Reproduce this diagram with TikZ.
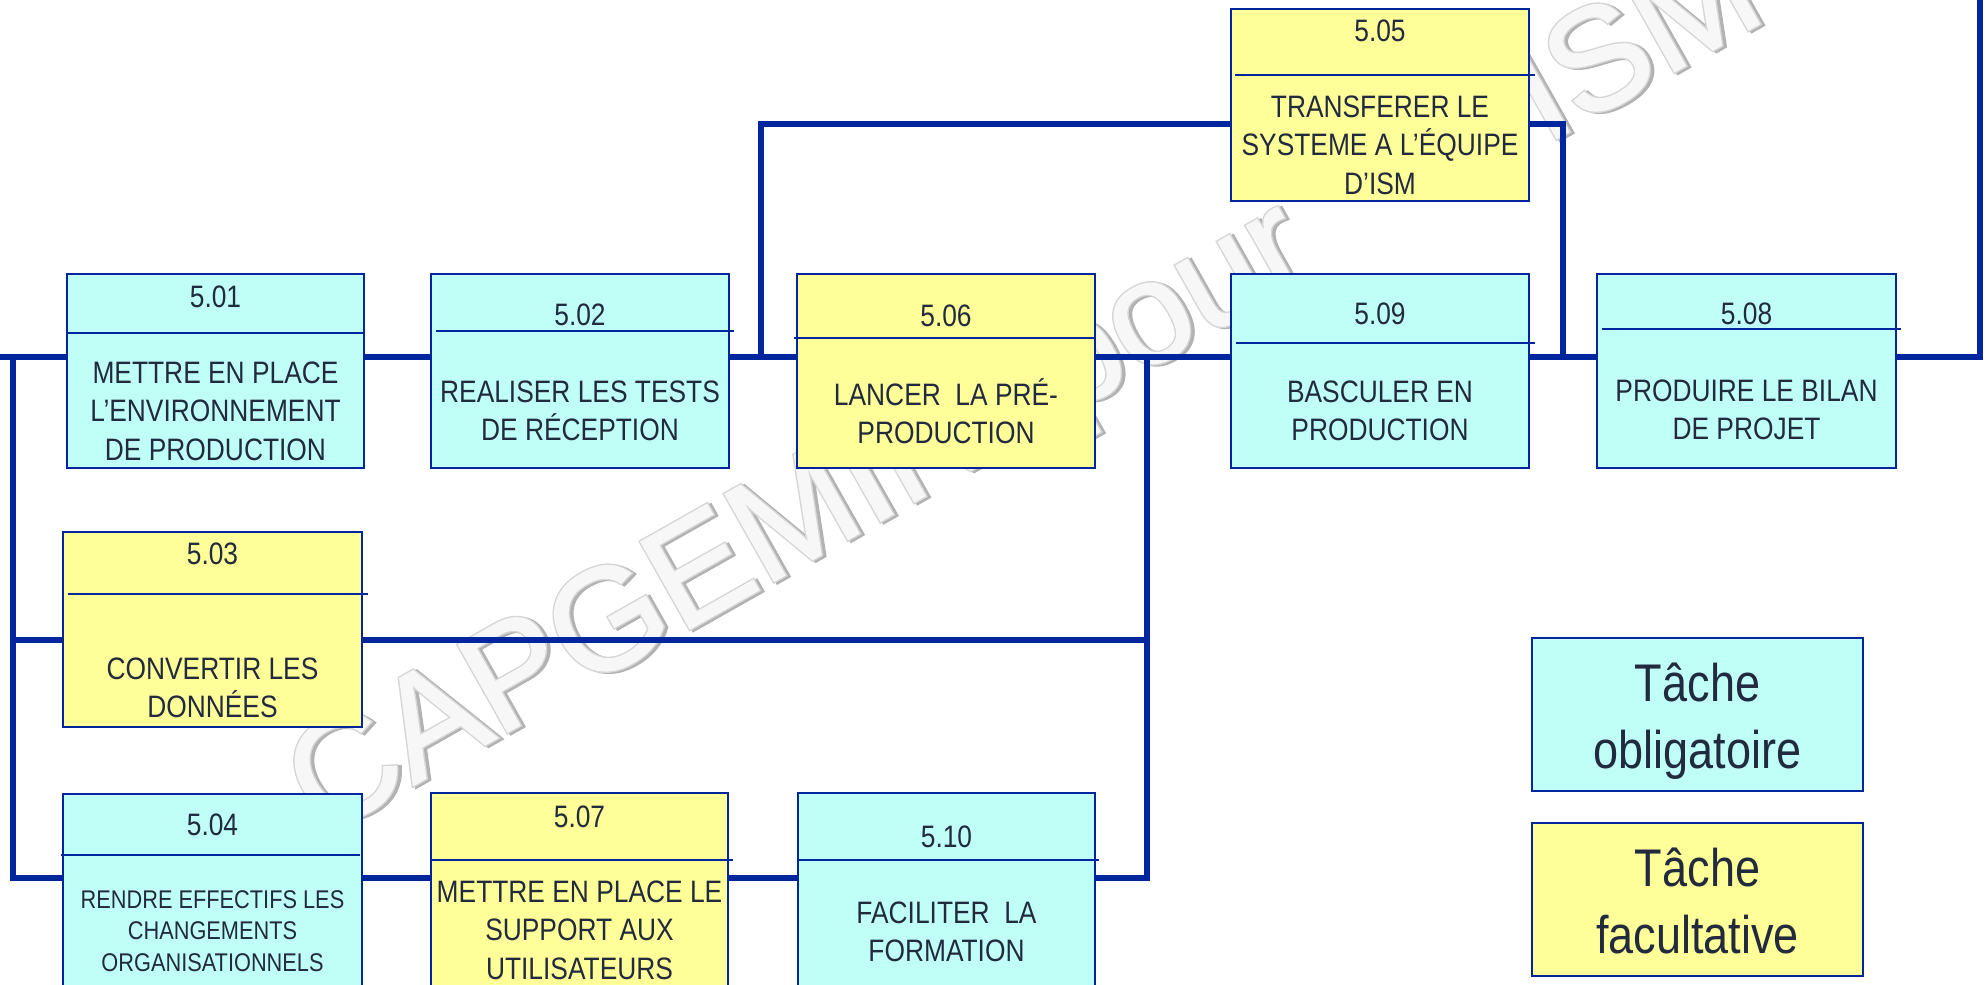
\documentclass[tikz,border=0pt]{standalone}
\usepackage{fontspec}
\setmainfont{Liberation Sans}[FakeStretch=0.85]
\newfontfamily\wmfont{Liberation Sans}[FakeBold=1]
\newfontfamily\wmline{Liberation Sans}[FakeBold=3]
\definecolor{lineblue}{RGB}{0,38,158}
\definecolor{cyanf}{RGB}{191,255,247}
\definecolor{yelf}{RGB}{255,255,153}
\definecolor{txt}{RGB}{34,42,62}
\definecolor{wmfill}{RGB}{247,247,247}
\begin{document}
\begin{tikzpicture}[x=1pt,y=-1pt,line join=miter,
  lnk/.style={draw=lineblue,line width=5.2pt},
  taskbox/.style={draw=lineblue,line width=2.8pt,anchor=north west,inner sep=0pt,outer sep=0pt},
  divline/.style={draw=lineblue,line width=2.5pt},
  tnum/.style={text=txt,inner sep=0pt,font=\fontsize{31}{38.5}\selectfont},
  tbody/.style={text=txt,inner sep=0pt,align=center,font=\fontsize{31}{38.5}\selectfont},
  tsmall/.style={text=txt,inner sep=0pt,align=center,font=\fontsize{25.6}{31.7}\selectfont},
  tlegend/.style={text=txt,inner sep=0pt,align=center,font=\fontsize{53}{67}\selectfont},
  wm/.style={inner sep=0pt,anchor=base west,rotate=29.5,font=\wmfont\fontsize{145}{145}\selectfont},
  wmo/.style={inner sep=0pt,anchor=base west,rotate=29.5,font=\wmline\fontsize{145}{145}\selectfont}]
\useasboundingbox (0,0) rectangle (1987,985);
\clip (0,0) rectangle (1987,985);
\fill[white] (0,0) rectangle (1987,985);
% watermark
\coordinate (wmA) at (322,837);
\coordinate (wmB) at (1545,145);
\node[wmo,text=gray!60,xshift=2.5pt,yshift=-2.5pt] (wma1) at (wmA) {CAPGEMINI pour};
\node[wmo,text=gray!60,xshift=2.5pt,yshift=-2.5pt] (wmb1) at (wmB) {ISM};
\node[wmo,text=gray!32] (wma2) at (wmA) {CAPGEMINI pour};
\node[wmo,text=gray!32] (wmb2) at (wmB) {ISM};
\node[wm,text=wmfill] (wma3) at (wmA) {CAPGEMINI pour};
\node[wm,text=wmfill] (wmb3) at (wmB) {ISM};
% boxes
\node[taskbox,fill=cyanf,minimum width=297pt,minimum height=194pt] (b501) at (67,274) {};
\node[taskbox,fill=cyanf,minimum width=298pt,minimum height=194pt] (b502) at (431,274) {};
\node[taskbox,fill=yelf,minimum width=298pt,minimum height=194pt] (b506) at (797,274) {};
\node[taskbox,fill=yelf,minimum width=298pt,minimum height=192pt] (b505) at (1231,9) {};
\node[taskbox,fill=cyanf,minimum width=298pt,minimum height=194pt] (b509) at (1231,274) {};
\node[taskbox,fill=cyanf,minimum width=299pt,minimum height=194pt] (b508) at (1597,274) {};
\node[taskbox,fill=yelf,minimum width=299pt,minimum height=195pt] (b503) at (63,532) {};
\node[taskbox,fill=cyanf,minimum width=299pt,minimum height=220pt] (b504) at (63,794) {};
\node[taskbox,fill=yelf,minimum width=297pt,minimum height=220pt] (b507) at (431,793) {};
\node[taskbox,fill=cyanf,minimum width=297pt,minimum height=220pt] (b510) at (798,793) {};
\node[taskbox,fill=cyanf,minimum width=331pt,minimum height=153pt] (leg1) at (1532,638) {};
\node[taskbox,fill=yelf,minimum width=331pt,minimum height=153pt] (leg2) at (1532,823) {};
% connectors
\coordinate (J0) at (0,357);
\coordinate (JR) at (1980,357);
\coordinate (JRt) at (1980,-10);
\coordinate (JL) at (13,357);
\coordinate (JL3) at (13,640);
\coordinate (JL4) at (13,878);
\coordinate (JM) at (1147,357);
\coordinate (JM3) at (1147,640);
\coordinate (JM4) at (1147,878);
\coordinate (JT) at (761,357);
\coordinate (JT2) at (761,124);
\coordinate (JU) at (1563,124);
\coordinate (JU2) at (1563,357);
\draw[lnk] (J0) -- (b501.west |- J0);
\draw[lnk] (b501.east |- J0) -- (b502.west |- J0);
\draw[lnk] (b502.east |- J0) -- (b506.west |- J0);
\draw[lnk] (b506.east |- J0) -- (b509.west |- J0);
\draw[lnk] (b509.east |- J0) -- (b508.west |- J0);
\draw[lnk] (b508.east |- J0) -- (JR) -- (JRt);
\draw[lnk] (JL) -- (JL4) -- (b504.west |- JL4);
\draw[lnk] (JL3) -- (b503.west |- JL3);
\draw[lnk] (b503.east |- JM3) -- (JM3);
\draw[lnk] (JM) -- (JM4) -- (b510.east |- JM4);
\draw[lnk] (b504.east |- JM4) -- (b507.west |- JM4);
\draw[lnk] (b507.east |- JM4) -- (b510.west |- JM4);
\draw[lnk] (JT) -- (JT2) -- (b505.west |- JT2);
\draw[lnk] (b505.east |- JU) -- (JU) -- (JU2);
% dividers
\draw[divline] (67,333) -- (364,333);
\draw[divline] (436,331) -- (734,331);
\draw[divline] (794,338) -- (1095,338);
\draw[divline] (1235,75) -- (1535,75);
\draw[divline] (1236,343) -- (1535,343);
\draw[divline] (1602,329) -- (1901,329);
\draw[divline] (68,594) -- (368,594);
\draw[divline] (61,855) -- (360,855);
\draw[divline] (431,860) -- (733,860);
\draw[divline] (798,860) -- (1099,860);
% texts
\node[tnum] (n501) at (215.5,297) {5.01};
\node[tbody] (t501) at (215.5,411) {METTRE EN PLACE\\L’ENVIRONNEMENT\\DE PRODUCTION};
\node[tnum] (n502) at (580,315) {5.02};
\node[tbody] (t502) at (580,411) {REALISER LES TESTS\\DE RÉCEPTION};
\node[tnum] (n506) at (946,316) {5.06};
\node[tbody] (t506) at (946,411) {LANCER\ \ LA PRÉ-\\PRODUCTION};
\node[tnum] (n505) at (1380,31) {5.05};
\node[tbody] (t505) at (1380,145) {TRANSFERER LE\\SYSTEME A L’ÉQUIPE\\D’ISM};
\node[tnum] (n509) at (1380,314) {5.09};
\node[tbody] (t509) at (1380,411) {BASCULER EN\\PRODUCTION};
\node[tnum] (n508) at (1746.5,314) {5.08};
\node[tbody] (t508) at (1746.5,410) {PRODUIRE LE BILAN\\DE PROJET};
\node[tnum] (n503) at (212.5,554) {5.03};
\node[tbody] (t503) at (212.5,688) {CONVERTIR LES\\DONNÉES};
\node[tnum] (n504) at (212.5,825) {5.04};
\node[tsmall] (t504) at (212.5,931) {RENDRE EFFECTIFS LES\\CHANGEMENTS\\ORGANISATIONNELS};
\node[tnum] (n507) at (579.5,817) {5.07};
\node[tbody] (t507) at (579.5,930) {METTRE EN PLACE LE\\SUPPORT AUX\\UTILISATEURS};
\node[tnum] (n510) at (946.5,837) {5.10};
\node[tbody] (t510) at (946.5,932) {FACILITER\ \ LA\\FORMATION};
\node[tlegend] (l1) at (1697.5,721) {Tâche\\obligatoire};
\node[tlegend] (l2) at (1697.5,900.5) {Tâche\\facultative};
\end{tikzpicture}
\end{document}
